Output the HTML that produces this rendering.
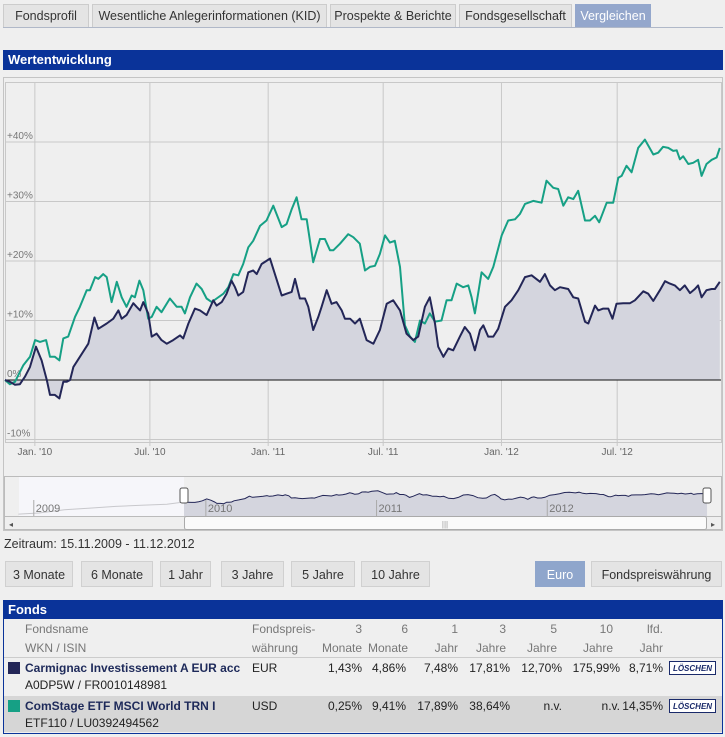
<!DOCTYPE html>
<html><head><meta charset="utf-8">
<style>
body{margin:0;width:725px;height:737px;background:#efefef;font-family:"Liberation Sans",Arial,sans-serif;font-size:12px;color:#333;position:relative;overflow:hidden}
.abs{position:absolute}
.tab{position:absolute;top:4px;height:23px;border:1px solid #ccc;border-bottom:none;background:#e4e4e4;color:#333;font-size:12.5px;line-height:23px;text-align:center;box-sizing:border-box}
.tab.act{background:#94a7cc;color:#fff;border-color:#94a7cc}
.bar{position:absolute;left:3px;width:720px;background:#0a3399;color:#fff;font-weight:bold;font-size:13px;box-sizing:border-box;padding-left:5px}
.btn{position:absolute;top:561px;height:26px;border:1px solid #d0d0d0;background:#e4e4e4;font-size:12.5px;line-height:26px;text-align:center;box-sizing:border-box}
.th{position:absolute;color:#777;font-size:12px;line-height:19px}
.c{position:absolute;font-size:12px;line-height:18px;color:#222}
.r{text-align:right}
.lo{position:absolute;width:47px;height:14px;border:1px solid #1a2a6a;background:#fff;font-size:8px;font-weight:bold;font-style:italic;color:#1a2a6a;line-height:14px;text-align:center;box-sizing:border-box}
</style></head><body>
<div class="abs" style="left:3px;top:27px;width:720px;height:1px;background:#b0b8c8"></div>
<div class="tab" style="left:3px;width:86px">Fondsprofil</div>
<div class="tab" style="left:92px;width:235px">Wesentliche Anlegerinformationen (KID)</div>
<div class="tab" style="left:330px;width:126px">Prospekte &amp; Berichte</div>
<div class="tab" style="left:459px;width:113px">Fondsgesellschaft</div>
<div class="tab act" style="left:575px;width:76px">Vergleichen</div>

<div class="bar" style="top:50px;height:20px;line-height:20px">Wertentwicklung</div>

<svg id="chart" class="abs" style="left:0;top:0" width="725" height="560"></svg>

<div class="abs" style="left:4px;top:537px;font-size:12.5px">Zeitraum: 15.11.2009 - 11.12.2012</div>

<div class="btn" style="left:5px;width:68px">3 Monate</div>
<div class="btn" style="left:81px;width:72px">6 Monate</div>
<div class="btn" style="left:160px;width:51px">1 Jahr</div>
<div class="btn" style="left:221px;width:63px">3 Jahre</div>
<div class="btn" style="left:291px;width:64px">5 Jahre</div>
<div class="btn" style="left:361px;width:69px">10 Jahre</div>
<div class="btn" style="left:535px;width:50px;background:#8fa6cc;color:#fff;border-color:#8fa6cc">Euro</div>
<div class="btn" style="left:591px;width:131px">Fondspreiswährung</div>

<div class="abs" style="left:3px;top:600px;width:720px;height:134px;border:1px solid #0a3399;border-top:none;box-sizing:border-box;background:#efefef"></div>
<div class="bar" style="top:600px;height:19px;line-height:19px">Fonds</div>
<div class="th" style="left:25px;top:620px">Fondsname<br>WKN / ISIN</div>
<div class="th" style="left:252px;top:620px">Fondspreis-<br>währung</div>
<div class="th r" style="left:300px;width:62px;top:620px">3<br>Monate</div>
<div class="th r" style="left:350px;width:58px;top:620px">6<br>Monate</div>
<div class="th r" style="left:410px;width:48px;top:620px">1<br>Jahr</div>
<div class="th r" style="left:460px;width:46px;top:620px">3<br>Jahre</div>
<div class="th r" style="left:510px;width:47px;top:620px">5<br>Jahre</div>
<div class="th r" style="left:560px;width:53px;top:620px">10<br>Jahre</div>
<div class="th r" style="left:620px;width:43px;top:620px">lfd.<br>Jahr</div>
<div class="abs" style="left:4px;top:657px;width:718px;height:1px;background:#ccc"></div>

<div>
<div class="abs" style="left:8px;top:662px;width:12px;height:12px;background:#232657"></div>
<div class="c" style="left:25px;top:659px;font-weight:bold;color:#1e2a5a">Carmignac Investissement A EUR acc</div>
<div class="c" style="left:25px;top:676px">A0DP5W / FR0010148981</div>
<div class="c" style="left:252px;top:659px">EUR</div>
<div class="c r" style="left:300px;width:62px;top:659px">1,43%</div>
<div class="c r" style="left:350px;width:56px;top:659px">4,86%</div>
<div class="c r" style="left:410px;width:48px;top:659px">7,48%</div>
<div class="c r" style="left:455px;width:55px;top:659px">17,81%</div>
<div class="c r" style="left:505px;width:57px;top:659px">12,70%</div>
<div class="c r" style="left:555px;width:65px;top:659px">175,99%</div>
<div class="c r" style="left:620px;width:43px;top:659px">8,71%</div>
<div class="lo" style="left:669px;top:661px">LÖSCHEN</div>
</div>

<div class="abs" style="left:4px;top:696px;width:718px;height:36px;background:#d6d6d6"></div>
<div>
<div class="abs" style="left:8px;top:700px;width:12px;height:12px;background:#16a085"></div>
<div class="c" style="left:25px;top:697px;font-weight:bold;color:#1e2a5a">ComStage ETF MSCI World TRN I</div>
<div class="c" style="left:25px;top:714px">ETF110 / LU0392494562</div>
<div class="c" style="left:252px;top:697px">USD</div>
<div class="c r" style="left:300px;width:62px;top:697px">0,25%</div>
<div class="c r" style="left:350px;width:56px;top:697px">9,41%</div>
<div class="c r" style="left:405px;width:53px;top:697px">17,89%</div>
<div class="c r" style="left:455px;width:55px;top:697px">38,64%</div>
<div class="c r" style="left:505px;width:57px;top:697px">n.v.</div>
<div class="c r" style="left:555px;width:65px;top:697px">n.v.</div>
<div class="c r" style="left:620px;width:43px;top:697px">14,35%</div>
<div class="lo" style="left:669px;top:699px">LÖSCHEN</div>
</div>

<script>
// years since 15.11.2009
const darkT=[0,.021,.043,.064,.086,.107,.133,.157,.179,.193,.214,.233,.25,.264,.279,.293,.321,.357,.383,.4,.436,.464,.486,.5,.521,.55,.564,.579,.593,.614,.629,.65,.671,.693,.721,.75,.764,.786,.814,.836,.864,.893,.907,.929,.95,.971,.986,1.0,1.021,1.043,1.064,1.079,1.1,1.136,1.157,1.186,1.207,1.229,1.243,1.264,1.286,1.3,1.321,1.343,1.357,1.379,1.4,1.421,1.443,1.457,1.479,1.5,1.521,1.55,1.579,1.607,1.636,1.664,1.693,1.721,1.75,1.771,1.8,1.821,1.843,1.857,1.879,1.9,1.921,1.95,1.971,1.993,2.014,2.036,2.05,2.071,2.093,2.114,2.143,2.171,2.2,2.229,2.257,2.293,2.314,2.336,2.357,2.379,2.414,2.436,2.457,2.486,2.5,2.529,2.543,2.564,2.586,2.604,2.621,2.65,2.679,2.7,2.736,2.757,2.779,2.807,2.829,2.85,2.871,2.893,2.914,2.936,2.957,2.971,2.986,3.007,3.029,3.043,3.064];
const darkV=[0,-0.3,-0.8,-0.7,0.6,2.2,5.6,3.3,0,-2.5,-2.5,-3.1,-0.3,-0.3,0,2.2,3.9,6.1,10.5,8.6,9.5,10.3,11.7,10.3,10.9,12.9,12.3,11.7,13.1,11.2,7.3,7.8,6.7,6.1,6.7,7.5,7.0,9.5,12.0,11.7,10.9,13.4,12.5,13.1,14.5,16.7,15.6,14.2,14.8,18.1,18.4,17.8,19.5,20.4,17.8,14.2,14.5,14.8,17.0,13.7,13.7,12.3,8.4,10.6,12.3,15.1,12.8,13.1,11.7,10.3,10.3,9.5,10.3,6.7,6.1,8.4,12.8,13.4,11.7,7.8,6.7,7.3,12.3,13.9,9.5,5.6,3.9,5.3,5.0,7.3,8.9,7.8,5.0,8.4,9.2,7.3,7.3,8.6,12.3,13.4,15.1,17.3,17.6,16.5,17.8,15.9,15.1,15.6,15.3,13.9,13.7,9.8,9.5,12.5,11.7,12.0,12.0,10.3,12.8,12.9,12.9,13.4,14.9,14.5,13.3,15.1,16.6,16.2,15.9,15.1,15.9,14.6,15.3,15.9,13.9,15.1,15.3,15.3,16.5];
const greenT=[0,.021,.043,.057,.079,.107,.129,.15,.176,.193,.214,.233,.25,.271,.3,.321,.35,.364,.386,.4,.421,.436,.457,.479,.5,.521,.543,.557,.576,.593,.614,.629,.65,.671,.707,.736,.757,.771,.793,.821,.843,.864,.886,.907,.936,.957,.979,1.0,1.021,1.043,1.064,1.093,1.121,1.15,1.186,1.207,1.229,1.25,1.271,1.293,1.321,1.35,1.371,1.393,1.407,1.436,1.471,1.493,1.521,1.543,1.564,1.586,1.607,1.629,1.65,1.671,1.693,1.714,1.736,1.757,1.779,1.8,1.821,1.843,1.871,1.893,1.914,1.936,1.964,1.986,2.0,2.014,2.043,2.071,2.093,2.129,2.157,2.186,2.207,2.229,2.264,2.3,2.321,2.35,2.371,2.393,2.414,2.436,2.457,2.486,2.507,2.529,2.547,2.579,2.607,2.629,2.643,2.664,2.686,2.714,2.743,2.779,2.8,2.821,2.843,2.864,2.879,2.893,2.907,2.929,2.95,2.971,2.986,3.007,3.029,3.05,3.064];
const greenV=[0,-0.7,-0.3,0.8,2.5,3.9,6.7,6.4,6.7,3.9,3.9,3.3,7.0,7.3,10.6,12.3,15.1,15.1,17.3,17.0,17.8,17.3,13.1,16.5,13.9,12.3,14.2,13.9,16.7,15.1,10.3,10.6,12.3,11.4,13.7,12.3,12.3,11.2,13.9,16.2,15.3,13.7,13.1,13.7,14.5,15.6,17.8,17.6,19.5,22.3,23.4,25.9,26.8,29.3,25.7,26.2,28.7,30.7,27.0,27.0,19.8,23.7,23.7,21.8,21.8,22.9,24.5,24.0,22.9,18.4,19.0,19.2,21.2,24.3,23.1,23.4,19.0,9.2,7.3,6.4,10.0,9.5,11.2,9.8,10.0,13.4,13.4,16.2,15.6,15.9,13.9,11.2,18.1,17.0,19.0,24.3,26.8,27.0,27.9,29.6,30.1,29.8,33.5,32.3,32.1,29.3,30.7,30.4,31.8,26.8,26.8,27.6,26.5,29.8,29.8,34.0,34.3,36.0,34.9,39.0,40.4,37.9,38.2,39.2,39.0,38.5,38.6,37.1,37.6,36.3,36.5,37.0,34.3,36.3,37.0,37.4,39.0];
const yTicks=[40,30,20,10,0,-10];
const yTickLabels=["+40%","+30%","+20%","+10%","0%","-10%"];
const xTickT=[0.128,0.621,1.128,1.621,2.128,2.624];
const xTickLabels=["Jan. '10","Jul. '10","Jan. '11","Jul. '11","Jan. '12","Jul. '12"];
const navYearT=[-0.88,0.128,1.128,2.128];
const navYearLabels=["2009","2010","2011","2012"];
const histT=[-0.97,-0.85,-0.7,-0.55,-0.4,-0.25,-0.1,0];
const histV=[-22,-20,-14,-11,-8,-6,-4,0];

const NS="http://www.w3.org/2000/svg";
const svg=document.getElementById('chart');
function X(t){return 5+t*233.3;}
function Y(v){return 380-v*5.95;}
function NX(t){return 184+t*170.7;}
function NY(v){return 502-v*0.55;}
function mk(tag,attrs){const e=document.createElementNS(NS,tag);for(const k in attrs)e.setAttribute(k,attrs[k]);svg.appendChild(e);return e;}
function path(T,V,fx,fy){return T.map((t,i)=>(i?'L':'M')+fx(t).toFixed(1)+','+fy(V[i]).toFixed(1)).join('');}

let e=mk('rect',{x:3.5,y:77.5,width:719,height:453,fill:'#efefef',stroke:'#c4c4c4'});


e=mk('rect',{x:5.5,y:82.5,width:716,height:360,fill:'#efefef',stroke:'#c8c8c8'});


yTicks.forEach((v,i)=>{
  if(v!==0){const g=mk('line',{x1:6,x2:721,y1:Y(v),y2:Y(v),stroke:'#c8c8c8'});
  
  }
  const t=mk('text',{x:7,y:Y(v)-3,'font-size':10,fill:'#777'});t.textContent=yTickLabels[i];
  
  
});
xTickT.forEach((tt,i)=>{
  const g=mk('line',{x1:X(tt),x2:X(tt),y1:83,y2:446,stroke:'#c8c8c8'});
  
  
  const t=mk('text',{x:X(tt),y:455,'font-size':10,fill:'#666','text-anchor':'middle'});t.textContent=xTickLabels[i];
  
  
});
const dp=path(darkT,darkV,X,Y);
e=mk('path',{d:dp+'L'+X(darkT[darkT.length-1])+','+Y(0)+'L'+X(0)+','+Y(0)+'Z',fill:'#d4d5de'});


e=mk('line',{x1:6,x2:721,y1:Y(0),y2:Y(0),stroke:'#111','stroke-width':1});


e=mk('path',{d:path(greenT,greenV,X,Y),fill:'none',stroke:'#16a085','stroke-width':2,'stroke-linejoin':'round'});


e=mk('path',{d:dp,fill:'none',stroke:'#232657','stroke-width':2,'stroke-linejoin':'round'});



// navigator
e=mk('rect',{x:4.5,y:476.5,width:717,height:40,fill:'#efefef',stroke:'#bbb'});


e=mk('rect',{x:19,y:477,width:165,height:39,fill:'#f6f6fa'});


e=mk('path',{d:path(histT,histV,NX,NY),fill:'none',stroke:'#c8c8cc','stroke-width':1});


const np=path(darkT,darkV,NX,NY);
e=mk('path',{d:np+'L'+NX(darkT[darkT.length-1])+',516L'+NX(0)+',516Z',fill:'#d4d5de'});


e=mk('path',{d:np,fill:'none',stroke:'#232657','stroke-width':1});


navYearT.forEach((tt,i)=>{
  const l=mk('line',{x1:NX(tt),x2:NX(tt),y1:500,y2:516,stroke:'#aaa'});
  
  
  const t=mk('text',{x:NX(tt)+2,y:512,'font-size':11,fill:'#777'});t.textContent=navYearLabels[i];
  
  
});
[184,707].forEach(hx=>{
  const h=mk('rect',{x:hx-4,y:488,width:8,height:15,rx:2,fill:'#fff',stroke:'#555'});
  
  
});
e=mk('rect',{x:4.5,y:516.5,width:717,height:13,fill:'#efefef',stroke:'#bbb'});


e=mk('rect',{x:184.5,y:516.5,width:522,height:13,rx:2,fill:'#fafafa',stroke:'#aaa'});


e=mk('text',{x:445,y:527,'font-size':8,fill:'#999','text-anchor':'middle'});e.textContent='|||';


e=mk('text',{x:9,y:527,'font-size':8,fill:'#555'});e.textContent='◂';


e=mk('text',{x:711,y:527,'font-size':8,fill:'#555'});e.textContent='▸';


</script>
</body></html>
